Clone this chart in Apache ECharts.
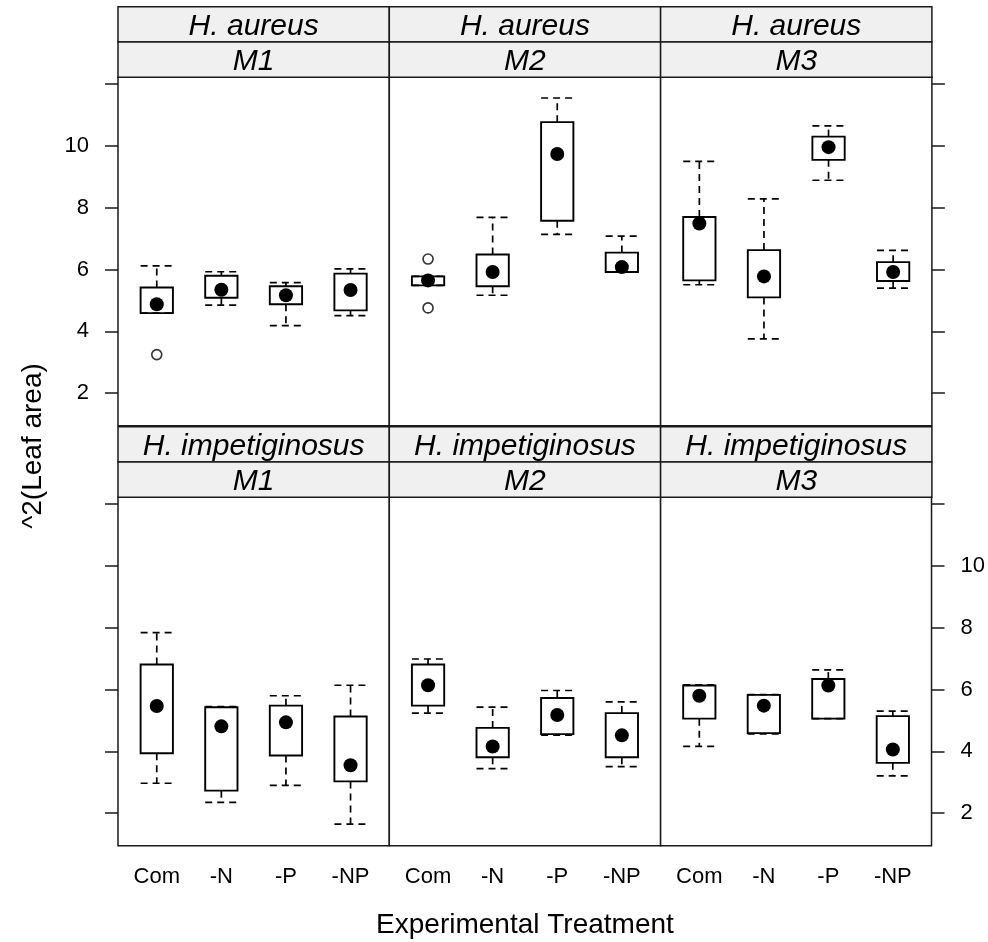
<!DOCTYPE html>
<html>
<head>
<meta charset="utf-8">
<script src="https://cdn.jsdelivr.net/npm/echarts@6/dist/echarts.min.js"></script>
<style>html,body{margin:0;padding:0;background:#fff}#c{width:988px;height:942px}</style>
</head>
<body>
<div id="c"></div>
<script>
// ---------------- data ----------------
const categories = ['Com', '-N', '-P', '-NP'];
const speciesNames = ['H. aureus', 'H. impetiginosus'];
const mediaNames = ['M1', 'M2', 'M3'];
const yTicks = [2, 4, 6, 8, 10, 12];
const yTickLabels = [2, 4, 6, 8, 10];
const xTitle = 'Experimental Treatment';
const yTitle = '^2(Leaf area)';

// each row: [lower whisker, Q1, median, Q3, upper whisker] for Com, -N, -P, -NP
const aureusM1 = [
  [4.59, 4.59, 4.88, 5.42, 6.12],
  [4.85, 5.09, 5.35, 5.80, 5.93],
  [4.19, 4.88, 5.17, 5.46, 5.58],
  [4.51, 4.68, 5.34, 5.87, 6.02]
];
const aureusM2 = [
  [5.49, 5.49, 5.65, 5.78, 5.78],
  [5.17, 5.46, 5.92, 6.49, 7.69],
  [7.14, 7.58, 9.74, 10.77, 11.55],
  [5.92, 5.92, 6.08, 6.55, 7.08]
];
const aureusM3 = [
  [5.51, 5.65, 7.49, 7.70, 9.50],
  [3.76, 5.10, 5.78, 6.63, 8.29],
  [8.89, 9.55, 9.96, 10.30, 10.65],
  [5.40, 5.63, 5.92, 6.24, 6.62]
];
const impetM1 = [
  [2.97, 3.94, 5.47, 6.81, 7.84],
  [2.35, 2.73, 4.81, 5.43, 5.45],
  [2.90, 3.87, 4.94, 5.48, 5.80],
  [1.65, 3.03, 3.55, 5.13, 6.14]
];
const impetM2 = [
  [5.24, 5.48, 6.14, 6.81, 6.99],
  [3.44, 3.81, 4.16, 4.76, 5.43],
  [4.53, 4.56, 5.18, 5.73, 5.97],
  [3.51, 3.81, 4.52, 5.24, 5.60]
];
const impetM3 = [
  [4.16, 5.06, 5.80, 6.13, 6.15],
  [4.57, 4.59, 5.48, 5.83, 5.84],
  [5.06, 5.06, 6.13, 6.34, 6.64],
  [3.21, 3.63, 4.06, 5.14, 5.30]
];
// outliers: [category, value]
const aureusM1Out = [['Com', 3.25]];
const aureusM2Out = [['Com', 6.34], ['Com', 4.76]];
const aureusM3Out = [];
const impetM1Out = [];
const impetM2Out = [];
const impetM3Out = [];

// ---------------- chart ----------------
const panels = [aureusM1, aureusM2, aureusM3, impetM1, impetM2, impetM3];
const panelOut = [aureusM1Out, aureusM2Out, aureusM3Out, impetM1Out, impetM2Out, impetM3Out];

const FONT = '"Liberation Sans", Arial, Helvetica, sans-serif';
const PL = 118, PW = 271.3, PH = 348.4, ROWTOP = [77.3, 497.3], SH = 35.3;
const YMIN = 0.95, YMAX = 12.22;
const LINE = '#1a1a1a';

const grids = [], xAxes = [], yAxes = [], series = [], graphics = [];

for (let r = 0; r < 2; r++) {
  for (let c = 0; c < 3; c++) {
    const i = r * 3 + c;
    grids.push({
      left: PL + c * PW, top: ROWTOP[r], width: PW, height: PH,
      show: true, borderColor: LINE, borderWidth: 1.5, backgroundColor: '#fff'
    });
    xAxes.push({
      type: 'value', gridIndex: i, min: 0.4, max: 4.6,
      axisLine: { show: false }, splitLine: { show: false },
      axisTick: { show: false },
      axisLabel: {
        show: r === 1, customValues: [1, 2, 3, 4],
        formatter: v => categories[Math.round(v) - 1] || '',
        fontSize: 22, fontFamily: FONT, color: '#000', margin: 20
      }
    });
    const hasTicks = (c === 0 || c === 2);
    const hasLabels = (r === 0 && c === 0) || (r === 1 && c === 2);
    yAxes.push({
      type: 'value', gridIndex: i, min: YMIN, max: YMAX,
      position: c === 2 ? 'right' : 'left',
      axisLine: { show: false }, splitLine: { show: false },
      axisTick: { show: hasTicks, length: 13, customValues: yTicks, lineStyle: { color: LINE, width: 1.5 } },
      axisLabel: {
        show: hasLabels, customValues: yTickLabels, fontSize: 22, fontFamily: FONT,
        color: '#000', margin: 29
      }
    });
    series.push({
      type: 'custom', xAxisIndex: i, yAxisIndex: i, silent: true,
      data: panels[i].map((s, k) => [k + 1].concat(s)),
      encode: { x: 0, y: [1, 2, 3, 4, 5] },
      renderItem: (params, api) => {
        const x = api.value(0);
        const cx = api.coord([x, api.value(3)])[0];
        const yLo = api.coord([x, api.value(1)])[1];
        const yQ1 = api.coord([x, api.value(2)])[1];
        const yMed = api.coord([x, api.value(3)])[1];
        const yQ3 = api.coord([x, api.value(4)])[1];
        const yHi = api.coord([x, api.value(5)])[1];
        const hw = api.size([0.5, 0])[0] / 2;
        const dash = { stroke: '#000', lineWidth: 1.7, lineDash: [7, 5] };
        const solid = { stroke: '#000', lineWidth: 1.9, fill: 'rgba(0,0,0,0)' };
        return {
          type: 'group',
          children: [
            { type: 'line', shape: { x1: cx, y1: yQ3, x2: cx, y2: yHi }, style: dash },
            { type: 'line', shape: { x1: cx, y1: yQ1, x2: cx, y2: yLo }, style: dash },
            { type: 'line', shape: { x1: cx - hw, y1: yHi, x2: cx + hw, y2: yHi }, style: dash },
            { type: 'line', shape: { x1: cx - hw, y1: yLo, x2: cx + hw, y2: yLo }, style: dash },
            { type: 'rect', shape: { x: cx - hw, y: yQ3, width: 2 * hw, height: yQ1 - yQ3 }, style: solid },
            { type: 'circle', shape: { cx: cx, cy: yMed, r: 7 }, style: { fill: '#000' } }
          ]
        };
      },
      animation: false
    });
    series.push({
      type: 'scatter', xAxisIndex: i, yAxisIndex: i, silent: true,
      data: panelOut[i].map(o => [categories.indexOf(o[0]) + 1, o[1]]),
      symbol: 'circle', symbolSize: 10,
      itemStyle: { color: '#fff', borderColor: '#000', borderWidth: 1.6 },
      animation: false
    });
    // strips
    const sx = PL + c * PW;
    const labels = [speciesNames[r], mediaNames[c]];
    for (let k = 0; k < 2; k++) {
      const sy = ROWTOP[r] - (2 - k) * SH;
      graphics.push({
        type: 'rect', shape: { x: sx, y: sy, width: PW, height: SH },
        style: { fill: '#f0f0f0', stroke: LINE, lineWidth: 1.5 }, z: 10
      });
      graphics.push({
        type: 'text', x: sx + PW / 2, y: sy + SH / 2 + 2, z: 11,
        style: {
          text: labels[k], fontSize: 30, fontStyle: 'italic', fontFamily: FONT,
          fill: '#000', align: 'center', verticalAlign: 'middle'
        }
      });
    }
  }
}

graphics.push({
  type: 'text', x: PL + 1.5 * PW, y: 925, z: 11,
  style: { text: xTitle, fontSize: 28, fontFamily: FONT, fill: '#000', align: 'center', verticalAlign: 'middle' }
});
graphics.push({
  type: 'text', x: 33, y: 446, rotation: Math.PI / 2, z: 11,
  style: { text: yTitle, fontSize: 28, fontFamily: FONT, fill: '#000', align: 'center', verticalAlign: 'middle' }
});

const chart = echarts.init(document.getElementById('c'));
chart.setOption({
  animation: false,
  grid: grids,
  xAxis: xAxes,
  yAxis: yAxes,
  series: series,
  graphic: graphics
});
</script>
</body>
</html>
